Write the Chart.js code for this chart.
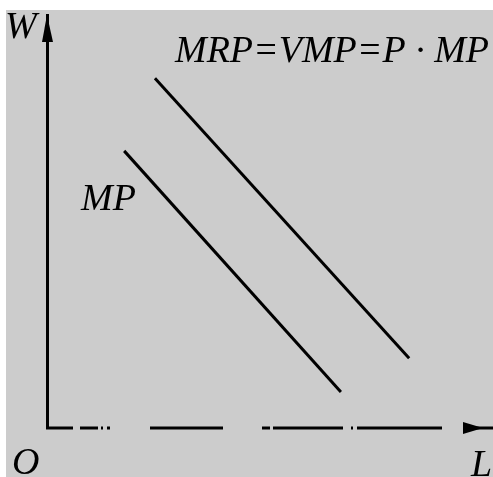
<!DOCTYPE html>
<html>
<head>
<meta charset="utf-8">
<script src="https://cdn.jsdelivr.net/npm/chart.js@4/dist/chart.umd.min.js"></script>
<style>
  html, body { margin: 0; padding: 0; background: #ffffff; }
  #wrap { width: 493px; height: 477px; }
</style>
</head>
<body>
<div id="wrap"><canvas id="c" width="493" height="477"></canvas></div>
<script>
// ---- data (axis units 0..10) ----
const curveNames = ['MRP=VMP=P · MP', 'MP'];
const mrpL = [2.42, 8.12];
const mrpW = [8.47, 1.69];
const mpL  = [1.73, 6.59];
const mpW  = [6.71, 0.87];
const axisNames = ['W', 'L', 'O'];
const axisMin = 0;
const axisMax = 10;

function pts(xs, ys) { return xs.map((x, i) => ({ x: x, y: ys[i] })); }

const FONT = 'italic 38px "Liberation Serif", "DejaVu Serif", serif';
// broken (scanned) look of the horizontal axis
const xAxisDash = [27, 7, 18, 3, 2, 4, 3, 40, 73, 39, 8, 3, 70, 8, 2, 4, 85, 21, 200, 0];

const paperPlugin = {
  id: 'paper',
  beforeDraw(chart) {
    const ctx = chart.ctx;
    ctx.save();
    ctx.fillStyle = '#ffffff';
    ctx.fillRect(0, 0, chart.width, chart.height);
    ctx.fillStyle = '#cccccc';
    ctx.fillRect(6, 10, chart.width - 6, chart.height - 10);
    ctx.restore();
  },
  afterDraw(chart) {
    const ctx = chart.ctx;
    const xs = chart.scales.x, ys = chart.scales.y;
    const x0 = xs.getPixelForValue(axisMin);
    const y0 = ys.getPixelForValue(axisMin);
    const yTop = ys.getPixelForValue(axisMax);
    const xEnd = xs.getPixelForValue(axisMax);
    ctx.save();
    // horizontal axis (dashed like the scan)
    ctx.strokeStyle = '#000000';
    ctx.lineWidth = 3;
    ctx.lineCap = 'butt';
    ctx.setLineDash(xAxisDash);
    ctx.beginPath();
    ctx.moveTo(x0 - 1, y0);
    ctx.lineTo(xEnd, y0);
    ctx.stroke();
    ctx.setLineDash([]);
    ctx.fillStyle = '#000000';
    // y arrow head
    ctx.beginPath();
    ctx.moveTo(x0, yTop);
    ctx.lineTo(x0 - 5, yTop + 27);
    ctx.lineTo(x0 + 6, yTop + 27);
    ctx.closePath();
    ctx.fill();
    // x arrow head
    ctx.beginPath();
    ctx.moveTo(xEnd - 10, y0);
    ctx.lineTo(xEnd - 30, y0 - 6);
    ctx.lineTo(xEnd - 30, y0 + 6);
    ctx.closePath();
    ctx.fill();
    // labels
    ctx.font = FONT;
    ctx.textBaseline = 'alphabetic';
    ctx.textAlign = 'left';
    ctx.fillText(curveNames[0], 175, 62);
    ctx.fillText(curveNames[1], 81, 210);
    ctx.fillText(axisNames[0], 5, 38);
    ctx.fillText(axisNames[1], 471, 476);
    ctx.fillText(axisNames[2], 12, 474);
    ctx.restore();
  }
};

const lineStyle = {
  borderColor: '#000000',
  borderWidth: 3,
  pointRadius: 0,
  fill: false,
  tension: 0
};

new Chart(document.getElementById('c'), {
  type: 'line',
  data: {
    datasets: [
      Object.assign({ label: curveNames[0], data: pts(mrpL, mrpW) }, lineStyle),
      Object.assign({ label: curveNames[1], data: pts(mpL, mpW) }, lineStyle)
    ]
  },
  options: {
    responsive: false,
    animation: false,
    devicePixelRatio: 1,
    layout: { padding: { left: 47, top: 15, right: 0, bottom: 49 } },
    plugins: { legend: { display: false }, tooltip: { enabled: false } },
    scales: {
      x: {
        type: 'linear', min: axisMin, max: axisMax,
        ticks: { display: false },
        grid: { display: false, drawTicks: false },
        border: { display: false }
      },
      y: {
        type: 'linear', min: axisMin, max: axisMax,
        ticks: { display: false },
        grid: { display: false, drawTicks: false },
        border: { display: true, color: '#000000', width: 3 }
      }
    }
  },
  plugins: [paperPlugin]
});
</script>
</body>
</html>
